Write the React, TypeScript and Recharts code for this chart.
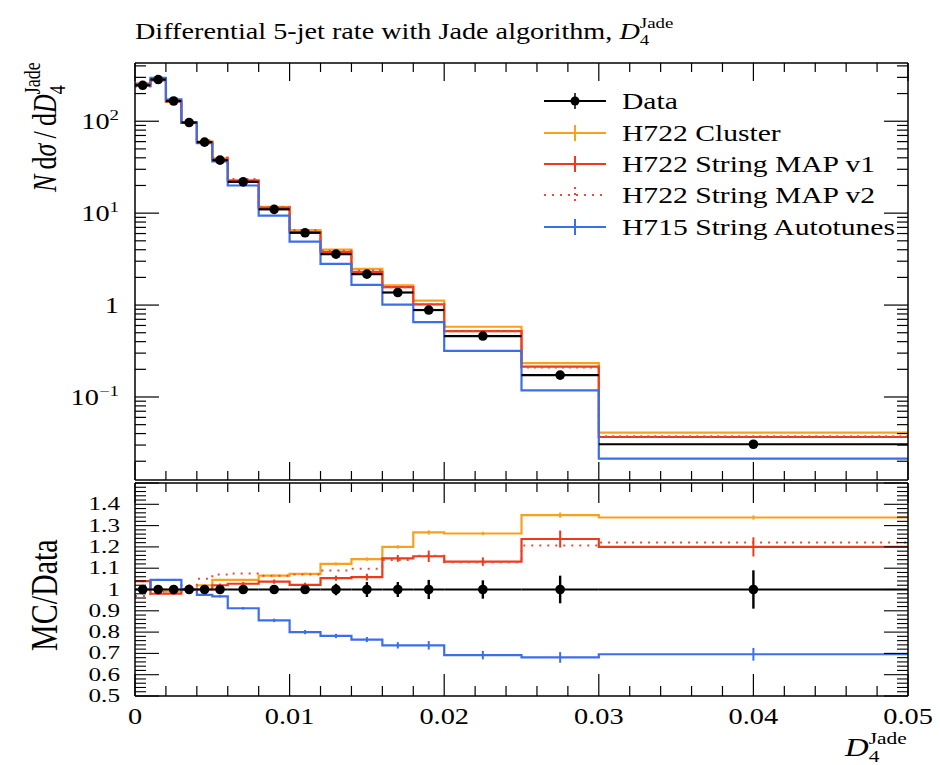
import React from "react";
import { ComposedChart, Line, Scatter, XAxis, YAxis, ErrorBar } from "recharts";

// bin edges in D4 (Jade)
const binEdges = [0, 0.001, 0.002, 0.003, 0.004, 0.005, 0.006, 0.008, 0.01, 0.012, 0.014, 0.016, 0.018, 0.02, 0.025, 0.03, 0.05];

// upper panel: N dsigma/dD4
const dataValues = [246, 284, 166, 96.8, 59.2, 37.7, 21.9, 11.0, 6.11, 3.58, 2.17, 1.37, 0.883, 0.46, 0.173, 0.0306];
const clusterValues = [246, 284, 164, 96.8, 60.4, 39.4, 22.9, 11.7, 6.56, 4.01, 2.48, 1.64, 1.12, 0.581, 0.233, 0.0409];
const mapV1Values = [256, 278, 163, 96.8, 59.2, 38.5, 22.5, 11.4, 6.24, 3.77, 2.3, 1.57, 1.02, 0.52, 0.214, 0.0367];
const mapV2Values = [239, 281, 166, 98.7, 62.2, 40.3, 23.5, 11.7, 6.54, 3.9, 2.38, 1.56, 1.02, 0.519, 0.209, 0.0374];
const autotuneValues = [246, 297, 173, 96.8, 57.7, 36.5, 20.0, 9.4, 4.89, 2.8, 1.66, 1.01, 0.652, 0.318, 0.118, 0.0213];

// lower panel: MC/Data
const dataRatio = [1, 1, 1, 1, 1, 1, 1, 1, 1, 1, 1, 1, 1, 1, 1, 1];
const dataRatioErr = [0.006, 0.006, 0.006, 0.006, 0.006, 0.008, 0.008, 0.01, 0.015, 0.027, 0.035, 0.035, 0.045, 0.043, 0.065, 0.09];
const clusterRatio = [1.0, 1.0, 0.99, 1.0, 1.02, 1.045, 1.045, 1.065, 1.073, 1.12, 1.143, 1.2, 1.268, 1.263, 1.349, 1.338];
const clusterRatioErr = [0.004, 0.004, 0.004, 0.004, 0.004, 0.005, 0.005, 0.006, 0.006, 0.007, 0.008, 0.008, 0.01, 0.008, 0.012, 0.01];
const mapV1Ratio = [1.039, 0.98, 0.98, 1.0, 1.0, 1.02, 1.027, 1.037, 1.022, 1.053, 1.058, 1.146, 1.156, 1.131, 1.237, 1.2];
const mapV1RatioErr = [0.005, 0.005, 0.005, 0.005, 0.005, 0.008, 0.008, 0.01, 0.01, 0.012, 0.016, 0.016, 0.027, 0.02, 0.04, 0.045];
const mapV2Ratio = [0.97, 0.99, 1.0, 1.02, 1.05, 1.07, 1.075, 1.065, 1.07, 1.089, 1.097, 1.139, 1.159, 1.128, 1.206, 1.221];
const autotuneRatio = [1.0, 1.045, 1.045, 1.0, 0.975, 0.968, 0.912, 0.855, 0.8, 0.782, 0.765, 0.738, 0.738, 0.692, 0.681, 0.696];
const autotuneRatioErr = [0.005, 0.005, 0.005, 0.005, 0.005, 0.005, 0.006, 0.008, 0.01, 0.01, 0.012, 0.015, 0.02, 0.02, 0.025, 0.03];

// ticks
const xMajorTicks = [0, 0.01, 0.02, 0.03, 0.04, 0.05];
const xAllTicks = Array.from({ length: 26 }, (_, i) => i * 0.002);
const logMajorTicks = [0.1, 1, 10, 100];
const logAllTicks = [0.01, 0.1, 1, 10, 100]
  .flatMap((d) => [1, 2, 3, 4, 5, 6, 7, 8, 9].map((m) => m * d))
  .filter((v) => v > 0.0125 && v < 430);
const ratioMajorTicks = [0.5, 0.6, 0.7, 0.8, 0.9, 1, 1.1, 1.2, 1.3, 1.4, 1.5];
const ratioLabelTicks = [0.5, 0.6, 0.7, 0.8, 0.9, 1, 1.1, 1.2, 1.3, 1.4];
const ratioAllTicks = Array.from({ length: 51 }, (_, i) => 0.5 + i * 0.02);

const SX = 1.26;
const FONT = "'Liberation Serif', 'DejaVu Serif', serif";
const ORANGE = "#f7a11c";
const RED = "#ee3a1a";
const RED2 = "#ee4a3a";
const BLUE = "#3d6ee9";

const stepRows = (vals: number[]) =>
  binEdges.map((x, i) => ({ x, y: vals[Math.min(i, vals.length - 1)] }));

const pointRows = (vals: number[], errs?: number[]) =>
  vals.map((y, i) => ({
    x: (binEdges[i] + binEdges[i + 1]) / 2,
    y,
    xe: (binEdges[i + 1] - binEdges[i]) / 2,
    ye: errs ? errs[i] : 0,
  }));

const near = (v: number, list: number[]) => list.some((m) => Math.abs(m - v) < 1e-9);

function XTickMark(props: any) {
  const { x, y, payload, dir, major, minor, label } = props;
  const v = payload.value;
  const isMajor = near(v, xMajorTicks);
  const len = isMajor ? major : minor;
  return (
    <g>
      <line x1={x} x2={x} y1={y} y2={y + dir * len} stroke="#000" strokeWidth={1.2} />
      {label && isMajor ? (
        <text
          transform={`translate(${x},${y + 28}) scale(${SX},1)`}
          textAnchor="middle"
          fontFamily={FONT}
          fontSize={22.5}
          fill="#000"
        >
          {v === 0 ? "0" : v.toFixed(2)}
        </text>
      ) : null}
    </g>
  );
}

function LogTickMark(props: any) {
  const { x, y, payload, dir, label } = props;
  const v = payload.value;
  const isMajor = near(v, logMajorTicks);
  const len = isMajor ? 24 : 11;
  const e = Math.round(Math.log10(v));
  return (
    <g>
      <line x1={x} x2={x + dir * len} y1={y} y2={y} stroke="#000" strokeWidth={1.2} />
      {label && isMajor ? (
        <text
          transform={`translate(${x - 16},${y + 8}) scale(${SX},1)`}
          textAnchor="end"
          fontFamily={FONT}
          fontSize={22.5}
          fill="#000"
        >
          {e === 0 ? (
            "1"
          ) : (
            <>
              <tspan>10</tspan>
              <tspan fontSize={15} dy={-9}>
                {e < 0 ? "\u2212" + Math.abs(e) : String(e)}
              </tspan>
            </>
          )}
        </text>
      ) : null}
    </g>
  );
}

function RatioTickMark(props: any) {
  const { x, y, payload, dir, label } = props;
  const v = payload.value;
  const isMajor = near(v, ratioMajorTicks);
  const len = isMajor ? 24 : 11;
  const showLabel = label && near(v, ratioLabelTicks);
  return (
    <g>
      <line x1={x} x2={x + dir * len} y1={y} y2={y} stroke="#000" strokeWidth={1.1} />
      {showLabel ? (
        <text
          transform={`translate(${x - 15},${y + 6}) scale(1.4,1)`}
          textAnchor="end"
          fontFamily={FONT}
          fontSize={18}
          fill="#000"
        >
          {Math.abs(v - 1) < 1e-9 ? "1" : v.toFixed(1)}
        </text>
      ) : null}
    </g>
  );
}

const frame = { stroke: "#000", strokeWidth: 1.5 };
const noShape = () => <g />;
const dot = (p: any) => <circle cx={p.cx} cy={p.cy} r={4.8} fill="#000" />;

function LegendRow({ y, color, dashed, isData, text }: any) {
  return (
    <g>
      <line
        x1={544}
        x2={606}
        y1={y}
        y2={y}
        stroke={color}
        strokeWidth={2}
        strokeDasharray={dashed ? "2 6" : undefined}
      />
      <line
        x1={575}
        x2={575}
        y1={y - 8}
        y2={y + 8}
        stroke={color}
        strokeWidth={isData ? 1.5 : 2}
        strokeDasharray={dashed ? "2 4" : undefined}
      />
      {isData ? <circle cx={575} cy={y} r={4.5} fill="#000" /> : null}
      <text transform={`translate(622,${y + 8}) scale(${SX},1)`} fontFamily={FONT} fontSize={23.5} fill="#000">
        {text}
      </text>
    </g>
  );
}

function Overlay() {
  return (
    <svg width={940} height={765} style={{ position: "absolute", left: 0, top: 0, pointerEvents: "none" }}>
      <text transform={`translate(135,39) scale(${SX},1)`} fontFamily={FONT} fontSize={22.4} fill="#000">
        Differential 5-jet rate with Jade algorithm,{" "}
        <tspan fontStyle="italic">D</tspan>
        <tspan fontSize={15} dy={6}>4</tspan>
        <tspan fontSize={15} dx={-7.5} dy={-17}>Jade</tspan>
      </text>
      <text transform={`translate(56,192) scale(${SX},1) rotate(-90)`} fontFamily={FONT} fontSize={26} fill="#000">
        <tspan fontStyle="italic">N</tspan>
        {"\u2009d"}
        <tspan fontStyle="italic">σ</tspan>
        {"\u2009/\u2009d"}
        <tspan fontStyle="italic">D</tspan>
        <tspan fontSize={18} dy={7}>4</tspan>
        <tspan fontSize={18} dx={-9} dy={-20}>Jade</tspan>
      </text>
      <text transform={`translate(57,651) scale(${SX},1) rotate(-90)`} fontFamily={FONT} fontSize={30} fill="#000">
        MC/Data
      </text>
      <text transform={`translate(845,756) scale(${SX},1)`} fontFamily={FONT} fontSize={26} fill="#000">
        <tspan fontStyle="italic">D</tspan>
        <tspan fontSize={17} dy={6}>4</tspan>
        <tspan fontSize={17} dx={-8.5} dy={-18}>Jade</tspan>
      </text>
      <LegendRow y={101} color="#000" isData text="Data" />
      <LegendRow y={133} color={ORANGE} text="H722 Cluster" />
      <LegendRow y={164} color={RED} text="H722 String MAP v1" />
      <LegendRow y={195} color={RED2} dashed text="H722 String MAP v2" />
      <LegendRow y={227} color={BLUE} text="H715 String Autotunes" />
    </svg>
  );
}

// shared axis props: 1px axis boxes so the frame sits exactly on the plot edges
const xAxisBase = {
  dataKey: "x",
  type: "number" as const,
  domain: [0, 0.05] as [number, number],
  allowDataOverflow: true,
  ticks: xAllTicks,
  interval: 0 as const,
  height: 1,
  tickSize: 0,
  tickMargin: 0,
  tickLine: false,
  axisLine: frame,
};

function TopPanel() {
  const yBase = {
    type: "number" as const,
    scale: "log" as const,
    domain: [0.0125, 430] as [number, number],
    allowDataOverflow: true,
    ticks: logAllTicks,
    interval: 0 as const,
    width: 1,
    tickSize: 0,
    tickMargin: 0,
    tickLine: false,
    axisLine: frame,
  };
  return (
    <div style={{ position: "absolute", left: 0, top: 0 }}>
      <ComposedChart width={940} height={765} margin={{ top: 62, right: 31, bottom: 284, left: 134 }}>
        <XAxis {...xAxisBase} tick={(p: any) => <XTickMark {...p} dir={-1} major={18} minor={9} label={false} />} />
        <XAxis {...xAxisBase} xAxisId="top" orientation="top" tick={(p: any) => <XTickMark {...p} dir={1} major={18} minor={9} label={false} />} />
        <YAxis {...yBase} tick={(p: any) => <LogTickMark {...p} dir={1} label />} />
        <YAxis {...yBase} yAxisId="right" orientation="right" tick={(p: any) => <LogTickMark {...p} dir={-1} label={false} />} />
        <Line data={stepRows(clusterValues)} dataKey="y" type="stepAfter" stroke={ORANGE} strokeWidth={2.2} dot={false} isAnimationActive={false} />
        <Line data={stepRows(mapV1Values)} dataKey="y" type="stepAfter" stroke={RED} strokeWidth={2.2} dot={false} isAnimationActive={false} />
        <Line data={stepRows(mapV2Values)} dataKey="y" type="stepAfter" stroke={RED2} strokeWidth={2} strokeDasharray="2 5" dot={false} isAnimationActive={false} />
        <Line data={stepRows(autotuneValues)} dataKey="y" type="stepAfter" stroke={BLUE} strokeWidth={2.2} dot={false} isAnimationActive={false} />
        <Scatter data={pointRows(dataValues)} dataKey="y" shape={dot} isAnimationActive={false}>
          <ErrorBar dataKey="xe" direction="x" width={0} stroke="#000" strokeWidth={2.2} />
        </Scatter>
      </ComposedChart>
    </div>
  );
}

function RatioPanel() {
  const yBase = {
    type: "number" as const,
    domain: [0.5, 1.5] as [number, number],
    allowDataOverflow: true,
    ticks: ratioAllTicks,
    interval: 0 as const,
    width: 1,
    tickSize: 0,
    tickMargin: 0,
    tickLine: false,
    axisLine: frame,
  };
  return (
    <div style={{ position: "absolute", left: 0, top: 0 }}>
      <ComposedChart width={940} height={765} margin={{ top: 482, right: 31, bottom: 68, left: 134 }}>
        <XAxis {...xAxisBase} tick={(p: any) => <XTickMark {...p} dir={-1} major={22} minor={10} label />} />
        <XAxis {...xAxisBase} xAxisId="top" orientation="top" tick={(p: any) => <XTickMark {...p} dir={1} major={20} minor={9} label={false} />} />
        <YAxis {...yBase} tick={(p: any) => <RatioTickMark {...p} dir={1} label />} />
        <YAxis {...yBase} yAxisId="right" orientation="right" tick={(p: any) => <RatioTickMark {...p} dir={-1} label={false} />} />
        <Line data={stepRows(clusterRatio)} dataKey="y" type="stepAfter" stroke={ORANGE} strokeWidth={2.2} dot={false} isAnimationActive={false} />
        <Line data={stepRows(mapV1Ratio)} dataKey="y" type="stepAfter" stroke={RED} strokeWidth={2.2} dot={false} isAnimationActive={false} />
        <Line data={stepRows(mapV2Ratio)} dataKey="y" type="stepAfter" stroke={RED2} strokeWidth={2} strokeDasharray="2 6" dot={false} isAnimationActive={false} />
        <Line data={stepRows(autotuneRatio)} dataKey="y" type="stepAfter" stroke={BLUE} strokeWidth={2.2} dot={false} isAnimationActive={false} />
        <Scatter data={pointRows(clusterRatio, clusterRatioErr)} dataKey="y" shape={noShape} isAnimationActive={false}>
          <ErrorBar dataKey="ye" direction="y" width={0} stroke={ORANGE} strokeWidth={2} />
        </Scatter>
        <Scatter data={pointRows(mapV1Ratio, mapV1RatioErr)} dataKey="y" shape={noShape} isAnimationActive={false}>
          <ErrorBar dataKey="ye" direction="y" width={0} stroke={RED} strokeWidth={2} />
        </Scatter>
        <Scatter data={pointRows(autotuneRatio, autotuneRatioErr)} dataKey="y" shape={noShape} isAnimationActive={false}>
          <ErrorBar dataKey="ye" direction="y" width={0} stroke={BLUE} strokeWidth={2} />
        </Scatter>
        <Scatter data={pointRows(dataRatio, dataRatioErr)} dataKey="y" shape={dot} isAnimationActive={false}>
          <ErrorBar dataKey="xe" direction="x" width={0} stroke="#000" strokeWidth={2} />
          <ErrorBar dataKey="ye" direction="y" width={0} stroke="#000" strokeWidth={2.4} />
        </Scatter>
      </ComposedChart>
    </div>
  );
}

export default function App() {
  return (
    <div style={{ position: "absolute", left: 0, top: 0, width: 940, height: 765, background: "#fff" }}>
      <TopPanel />
      <RatioPanel />
      <Overlay />
    </div>
  );
}
